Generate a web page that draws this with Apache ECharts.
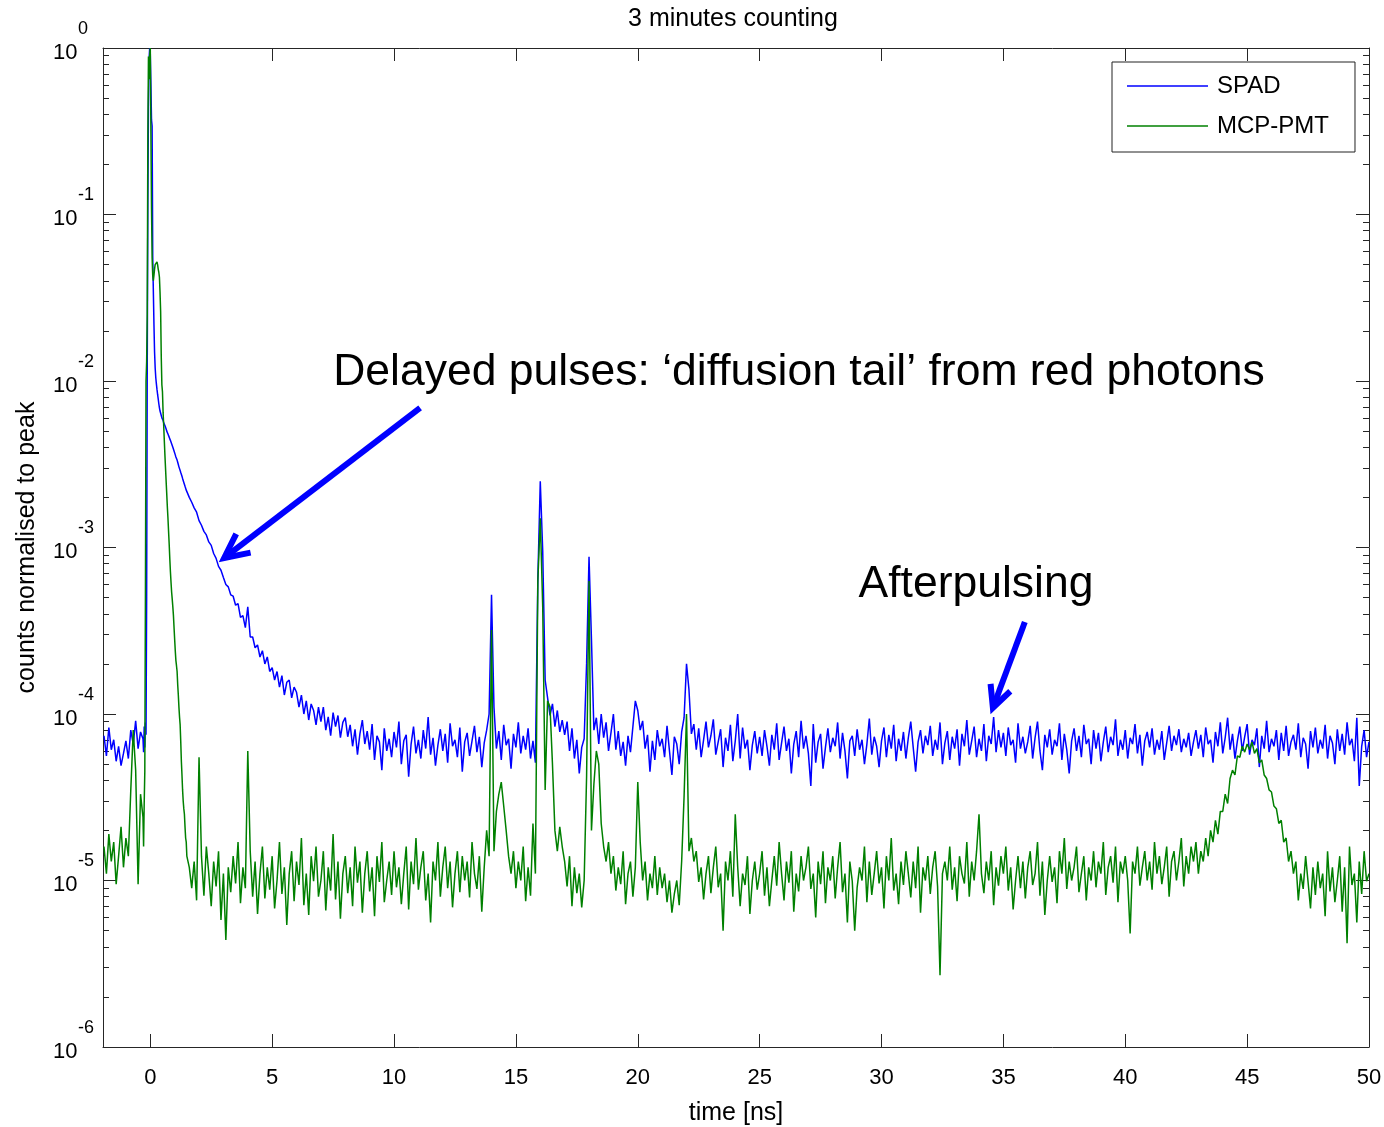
<!DOCTYPE html>
<html><head><meta charset="utf-8">
<script src="https://cdn.jsdelivr.net/npm/echarts@6/dist/echarts.min.js"></script>
<style>html,body{margin:0;padding:0;background:#fff}#c{width:1384px;height:1127px}</style>
</head><body><div id="c"></div><script>
// ---------------- data (counts normalised to peak) ----------------
const seriesNames = ['SPAD', 'MCP-PMT'];
const coarseStep = 0.1;          // ns between coarse samples
const preStart = -1.9;           // first coarse sample before the peak
const spadPre = [7.4e-5,5.6e-5,8.3e-5,6.1e-5,7.0e-5,5.2e-5,6.4e-5,4.9e-5,5.8e-5,6.9e-5,5.4e-5,8.0e-5,6.6e-5,9.1e-5,6.2e-5,7.8e-5];
const mcpPre  = [1.6e-5,1.1e-5,1.9e-5,1.3e-5,1.7e-5,9.5e-6,1.4e-5,2.1e-5,1.2e-5,1.8e-5,1.4e-5,3.5e-5,8.0e-5,4.6e-5,9.5e-6,3.3e-5];
const peakStart = -0.3, peakStep = 0.025;   // fine samples around the main peak
const spadPeak = [7.1e-5,5.9e-5,8.4e-5,6.3e-5,8.9e-5,7.5e-5,4.8e-4,1.2e-2,1.2e-1,4.5e-1,8.5e-1,1.0,9.2e-1,6.0e-1,3.7e-1,3.4e-1,
 5.6e-2,3.5e-2,2.2e-2,1.5e-2,1.2e-2,1.05e-2,9.6e-3,8.9e-3,8.3e-3,7.8e-3,7.3e-3,6.9e-3,6.6e-3,6.4e-3,6.2e-3,6.0e-3,
 5.9e-3,5.8e-3,5.6e-3,5.5e-3,5.4e-3,5.3e-3,5.15e-3,5.0e-3,4.9e-3,4.8e-3,4.7e-3,4.6e-3,4.5e-3,4.4e-3,4.3e-3,4.2e-3,
 4.1e-3,4.0e-3,3.9e-3,3.8e-3,3.7e-3,3.6e-3,3.5e-3,3.42e-3,3.35e-3,3.25e-3,3.15e-3,3.05e-3,2.98e-3,2.9e-3,2.82e-3,2.75e-3,
 2.68e-3,2.6e-3,2.53e-3,2.46e-3,2.4e-3,2.33e-3,2.27e-3,2.21e-3,2.15e-3];
const mcpPeak = [2.4e-5,1.6e-5,2.9e-5,4.5e-5,5.0e-4,1.0e-2,1.3e-2,2.5e-2,3.0e-1,8.9e-1,6.5e-1,9.0e-1,1.0,3.2e-1,1.1e-1,5.5e-2,
 4.3e-2,4.0e-2,4.3e-2,4.7e-2,5.0e-2,5.1e-2,5.0e-2,5.2e-2,5.0e-2,4.7e-2,4.5e-2,4.2e-2,3.4e-2,2.6e-2,1.4e-2,9.5e-3,
 8.6e-3,6.5e-3,5.4e-3,4.4e-3,3.6e-3,3.0e-3,2.5e-3,2.1e-3,1.75e-3,1.5e-3,1.25e-3,1.05e-3,8.6e-4,7.2e-4,6.2e-4,5.4e-4,
 4.9e-4,4.4e-4,3.9e-4,3.3e-4,2.8e-4,2.4e-4,2.1e-4,1.95e-4,1.8e-4,1.5e-4,1.3e-4,1.1e-4,9.6e-5,8.6e-5,6.8e-5,5.2e-5,
 4.3e-5,3.5e-5,3.0e-5,2.7e-5,2.5e-5,2.1e-5,1.8e-5,1.7e-5,1.4e-5];
const tailStart = 1.6;           // coarse samples from 1.6 ns to 50 ns
const spadTail = [2.0e-3,1.87e-3,1.73e-3,1.63e-3,
1.45e-3,1.36e-3,1.25e-3,1.19e-3,1.08e-3,1.03e-3,9.2e-4,8.6e-4,7.7e-4,7.3e-4,
6.6e-4,6.0e-4,5.8e-4,5.2e-4,5.1e-4,4.5e-4,4.6e-4,3.8e-4,3.9e-4,3.3e-4,
4.4e-4,2.9e-4,2.9e-4,2.5e-4,2.6e-4,2.2e-4,2.4e-4,2.0e-4,2.2e-4,1.8e-4,
1.9e-4,1.6e-4,1.8e-4,1.45e-4,1.7e-4,1.3e-4,1.55e-4,1.6e-4,1.25e-4,1.45e-4,
1.35e-4,1.1e-4,1.3e-4,1.0e-4,1.2e-4,9.2e-5,1.15e-4,1.05e-4,8.6e-5,1.1e-4,
9.0e-5,1.1e-4,8.0e-5,9.6e-5,7.4e-5,1.02e-4,8.4e-5,9.8e-5,7.2e-5,8.9e-5,
9.5e-5,7.3e-5,8.6e-5,6.4e-5,8.1e-5,5.7e-5,7.6e-5,9.2e-5,6.6e-5,7.9e-5,
6.1e-5,8.7e-5,5.3e-5,7.4e-5,6.8e-5,4.6e-5,8.2e-5,6.0e-5,7.1e-5,5.5e-5,
7.8e-5,6.3e-5,9.0e-5,5.0e-5,6.9e-5,7.5e-5,4.2e-5,6.6e-5,8.4e-5,5.8e-5,
7.0e-5,5.4e-5,8.0e-5,6.2e-5,9.6e-5,5.7e-5,7.2e-5,4.9e-5,6.5e-5,8.1e-5,
6.0e-5,7.6e-5,5.1e-5,8.8e-5,6.4e-5,7.0e-5,5.5e-5,8.3e-5,4.5e-5,6.8e-5,
7.7e-5,5.6e-5,6.9e-5,8.5e-5,5.9e-5,7.3e-5,4.8e-5,6.7e-5,8.0e-5,1.0e-4,
5.2e-4,1.1e-4,6.2e-5,7.9e-5,5.3e-5,8.6e-5,6.5e-5,7.1e-5,4.7e-5,7.6e-5,
6.3e-5,8.9e-5,5.8e-5,7.4e-5,6.1e-5,8.2e-5,5.4e-5,6.9e-5,5.1e-5,6.5e-4,
2.5e-3,9.5e-4,1.6e-4,1.25e-4,9.8e-5,1.15e-4,8.4e-5,1.05e-4,7.8e-5,9.2e-5,
7.5e-5,9.0e-5,6.0e-5,8.2e-5,5.4e-5,7.0e-5,4.4e-5,6.3e-5,7.1e-5,2.0e-4,
8.8e-4,2.8e-4,8.0e-5,9.5e-5,6.6e-5,1.0e-4,7.2e-5,8.9e-5,6.0e-5,7.7e-5,
1.0e-4,6.1e-5,7.9e-5,5.6e-5,6.8e-5,4.9e-5,7.4e-5,5.9e-5,8.4e-5,1.2e-4,
1.05e-4,8.0e-5,9.1e-5,6.2e-5,7.5e-5,4.5e-5,6.9e-5,5.3e-5,8.0e-5,6.4e-5,
7.1e-5,5.5e-5,8.5e-5,6.0e-5,4.3e-5,7.3e-5,6.6e-5,5.0e-5,7.8e-5,9.5e-5,
2.0e-4,1.4e-4,7.6e-5,8.7e-5,6.1e-5,8.2e-5,5.5e-5,7.0e-5,9.0e-5,6.3e-5,
7.4e-5,9.3e-5,5.7e-5,6.8e-5,8.1e-5,4.8e-5,7.2e-5,6.0e-5,8.6e-5,5.2e-5,
6.9e-5,1.0e-4,5.4e-5,8.3e-5,6.2e-5,7.0e-5,4.6e-5,6.5e-5,7.9e-5,5.8e-5,
7.3e-5,5.6e-5,8.0e-5,6.4e-5,4.9e-5,7.5e-5,6.1e-5,8.8e-5,5.3e-5,6.7e-5,
8.4e-5,6.0e-5,7.1e-5,4.4e-5,6.6e-5,7.9e-5,5.5e-5,9.1e-5,6.2e-5,7.4e-5,
5.8e-5,3.7e-5,8.7e-5,5.1e-5,6.8e-5,7.6e-5,4.7e-5,6.3e-5,8.2e-5,5.9e-5,
7.2e-5,6.4e-5,8.9e-5,5.4e-5,7.7e-5,6.0e-5,4.1e-5,6.9e-5,7.4e-5,5.6e-5,
8.1e-5,6.1e-5,7.0e-5,5.0e-5,6.6e-5,9.4e-5,5.7e-5,7.3e-5,6.4e-5,4.8e-5,
6.9e-5,8.3e-5,5.5e-5,7.5e-5,6.2e-5,8.6e-5,5.2e-5,7.1e-5,6.0e-5,7.8e-5,
5.4e-5,7.2e-5,9.0e-5,6.3e-5,4.5e-5,6.8e-5,8.0e-5,5.8e-5,7.4e-5,6.5e-5,
8.5e-5,5.6e-5,7.0e-5,6.1e-5,8.9e-5,5.0e-5,6.7e-5,7.9e-5,5.3e-5,7.3e-5,
6.2e-5,8.1e-5,4.9e-5,7.6e-5,6.4e-5,9.2e-5,5.7e-5,6.9e-5,8.4e-5,5.5e-5,
7.1e-5,6.0e-5,8.7e-5,5.2e-5,7.4e-5,6.6e-5,9.6e-5,5.9e-5,8.0e-5,6.3e-5,
7.7e-5,5.6e-5,8.3e-5,6.5e-5,7.0e-5,5.1e-5,8.8e-5,6.2e-5,7.3e-5,5.8e-5,
6.8e-5,8.5e-5,5.4e-5,7.2e-5,9.0e-5,6.0e-5,4.6e-5,7.5e-5,6.3e-5,8.1e-5,
5.7e-5,7.0e-5,6.4e-5,8.8e-5,5.3e-5,7.6e-5,6.1e-5,4.4e-5,6.9e-5,8.2e-5,
6.0e-5,7.4e-5,5.5e-5,8.6e-5,6.6e-5,7.1e-5,5.0e-5,8.0e-5,6.2e-5,7.7e-5,
5.2e-5,6.8e-5,8.4e-5,5.9e-5,7.3e-5,6.5e-5,9.3e-5,5.6e-5,7.0e-5,6.1e-5,
8.0e-5,5.4e-5,7.2e-5,6.6e-5,8.7e-5,5.8e-5,7.5e-5,4.9e-5,6.9e-5,7.8e-5,
6.3e-5,8.2e-5,5.7e-5,7.0e-5,6.1e-5,7.9e-5,5.3e-5,6.7e-5,8.5e-5,6.0e-5,
7.4e-5,6.5e-5,8.1e-5,5.9e-5,7.1e-5,6.3e-5,7.7e-5,5.6e-5,6.8e-5,8.0e-5,
6.2e-5,7.5e-5,5.5e-5,8.3e-5,6.6e-5,7.0e-5,5.1e-5,7.8e-5,6.4e-5,8.9e-5,
5.8e-5,7.2e-5,9.5e-5,6.1e-5,7.6e-5,5.4e-5,6.9e-5,8.4e-5,6.0e-5,7.3e-5,
8.7e-5,5.7e-5,7.0e-5,6.5e-5,8.2e-5,4.8e-5,7.4e-5,6.2e-5,9.1e-5,5.9e-5,
7.1e-5,6.4e-5,8.0e-5,5.3e-5,7.7e-5,6.0e-5,8.5e-5,5.6e-5,6.8e-5,7.5e-5,
6.1e-5,8.8e-5,5.5e-5,7.2e-5,6.6e-5,4.7e-5,7.9e-5,6.3e-5,8.3e-5,5.8e-5,
7.0e-5,6.2e-5,8.6e-5,5.4e-5,7.4e-5,6.7e-5,5.0e-5,8.1e-5,6.0e-5,7.6e-5,
5.7e-5,8.9e-5,6.5e-5,7.1e-5,5.2e-5,9.5e-5,3.7e-5,6.4e-5,8.0e-5,5.5e-5,
6.8e-5];
const mcpTail = [1.2e-5,9.0e-6,1.3e-5,7.6e-6,
5.5e-5,1.4e-5,8.1e-6,1.6e-5,1.1e-5,7.0e-6,1.3e-5,9.2e-6,1.5e-5,5.8e-6,
1.1e-5,4.4e-6,1.2e-5,8.5e-6,1.4e-5,9.6e-6,1.7e-5,7.3e-6,1.2e-5,9.0e-6,
6.0e-5,1.5e-5,8.0e-6,1.3e-5,6.3e-6,1.1e-5,1.6e-5,7.8e-6,1.2e-5,8.8e-6,
1.4e-5,6.8e-6,1.0e-5,1.7e-5,8.3e-6,1.2e-5,5.4e-6,1.1e-5,1.5e-5,7.5e-6,
1.3e-5,9.4e-6,1.8e-5,7.1e-6,1.1e-5,6.2e-6,1.4e-5,9.9e-6,1.6e-5,8.0e-6,
1.0e-5,1.5e-5,6.6e-6,1.2e-5,8.7e-6,1.9e-5,7.7e-6,1.3e-5,5.9e-6,1.1e-5,
1.4e-5,8.4e-6,1.2e-5,7.0e-6,1.6e-5,9.7e-6,1.3e-5,6.4e-6,1.1e-5,1.5e-5,
8.6e-6,1.2e-5,6.1e-6,1.4e-5,9.8e-6,1.7e-5,7.4e-6,1.0e-5,1.3e-5,8.2e-6,
1.5e-5,9.1e-6,1.2e-5,7.2e-6,1.1e-5,1.6e-5,6.7e-6,1.3e-5,9.5e-6,1.8e-5,
8.8e-6,1.2e-5,1.5e-5,7.6e-6,1.1e-5,5.6e-6,1.3e-5,1.0e-5,1.7e-5,8.0e-6,
1.2e-5,1.6e-5,9.0e-6,1.3e-5,6.9e-6,1.1e-5,1.5e-5,8.5e-6,1.4e-5,1.0e-5,
1.3e-5,7.9e-6,1.7e-5,1.1e-5,8.9e-6,1.4e-5,6.5e-6,1.2e-5,2.0e-5,1.4e-5,
3.2e-4,1.5e-5,2.6e-5,3.3e-5,3.9e-5,2.8e-5,2.0e-5,1.4e-5,1.1e-5,1.5e-5,
9.0e-6,1.3e-5,1.0e-5,1.6e-5,7.5e-6,1.2e-5,8.1e-6,2.2e-5,1.1e-5,6.3e-4,
1.5e-3,4.4e-4,3.5e-5,1.2e-4,1.1e-4,5.0e-5,2.0e-5,1.5e-5,2.1e-5,1.6e-5,
1.3e-5,9.2e-6,1.4e-5,7.0e-6,1.2e-5,8.4e-6,1.1e-5,6.9e-6,1.0e-5,4.2e-5,
6.3e-4,2.0e-5,3.8e-5,6.0e-5,5.0e-5,2.2e-5,1.6e-5,1.3e-5,1.7e-5,1.1e-5,
1.4e-5,8.7e-6,1.2e-5,9.5e-6,1.5e-5,7.2e-6,1.1e-5,1.3e-5,8.0e-6,1.2e-5,
3.9e-5,1.7e-5,1.0e-5,1.3e-5,7.6e-6,1.1e-5,9.0e-6,1.4e-5,8.2e-6,1.2e-5,
9.0e-6,1.1e-5,7.4e-6,1.0e-5,6.4e-6,8.3e-6,1.0e-5,7.1e-6,1.3e-5,3.2e-5,
1.0e-4,1.5e-5,1.8e-5,1.3e-5,1.5e-5,9.8e-6,1.2e-5,7.7e-6,1.1e-5,1.4e-5,
8.4e-6,1.2e-5,1.6e-5,9.1e-6,1.1e-5,5.0e-6,1.3e-5,1.0e-5,1.5e-5,8.0e-6,
2.5e-5,1.2e-5,7.0e-6,1.1e-5,9.4e-6,1.4e-5,6.3e-6,1.0e-5,1.3e-5,8.8e-6,
1.1e-5,1.5e-5,8.1e-6,1.2e-5,7.0e-6,1.0e-5,1.4e-5,9.3e-6,1.7e-5,1.1e-5,
7.6e-6,1.3e-5,9.7e-6,1.5e-5,6.5e-6,1.1e-5,8.6e-6,1.4e-5,1.0e-5,1.2e-5,
1.6e-5,8.9e-6,1.1e-5,6.0e-6,1.3e-5,9.5e-6,1.5e-5,7.3e-6,1.2e-5,1.0e-5,
1.4e-5,7.8e-6,1.2e-5,1.7e-5,8.5e-6,1.1e-5,5.6e-6,1.3e-5,9.9e-6,5.0e-6,
9.1e-6,1.2e-5,1.0e-5,1.6e-5,7.4e-6,1.3e-5,8.2e-6,1.1e-5,1.5e-5,9.6e-6,
1.2e-5,6.8e-6,1.4e-5,1.0e-5,1.8e-5,8.7e-6,1.1e-5,7.2e-6,1.3e-5,9.4e-6,
1.5e-5,1.1e-5,7.9e-6,1.3e-5,9.0e-6,1.6e-5,6.4e-6,1.2e-5,1.0e-5,1.4e-5,
8.3e-6,1.2e-5,1.5e-5,9.2e-6,2.7e-6,1.1e-5,1.3e-5,1.0e-5,1.6e-5,8.8e-6,
1.2e-5,7.5e-6,1.4e-5,1.1e-5,9.6e-6,1.7e-5,8.0e-6,1.3e-5,1.0e-5,1.5e-5,
2.5e-5,1.1e-5,8.4e-6,1.3e-5,1.0e-5,1.5e-5,7.1e-6,1.2e-5,9.3e-6,1.4e-5,
1.1e-5,1.6e-5,8.7e-6,1.2e-5,6.7e-6,1.0e-5,1.4e-5,9.0e-6,1.3e-5,7.8e-6,
1.2e-5,1.5e-5,9.4e-6,1.1e-5,1.7e-5,8.1e-6,1.3e-5,6.2e-6,1.0e-5,1.4e-5,
9.8e-6,1.2e-5,7.3e-6,1.5e-5,1.1e-5,1.8e-5,8.9e-6,1.3e-5,1.0e-5,1.2e-5,
1.6e-5,8.5e-6,1.1e-5,1.4e-5,7.6e-6,1.2e-5,1.0e-5,1.5e-5,9.1e-6,1.3e-5,
1.1e-5,1.7e-5,8.2e-6,1.2e-5,1.4e-5,9.7e-6,1.6e-5,7.4e-6,1.3e-5,1.1e-5,
1.4e-5,1.0e-5,4.8e-6,1.3e-5,1.1e-5,1.6e-5,9.3e-6,1.2e-5,1.5e-5,1.0e-5,
1.3e-5,8.8e-6,1.7e-5,1.1e-5,1.4e-5,9.5e-6,1.2e-5,1.6e-5,8.0e-6,1.3e-5,
1.5e-5,1.0e-5,1.3e-5,1.8e-5,9.2e-6,1.4e-5,1.1e-5,1.6e-5,1.3e-5,1.7e-5,
1.1e-5,1.5e-5,1.3e-5,1.8e-5,1.4e-5,2.0e-5,1.7e-5,2.3e-5,1.9e-5,2.6e-5,
2.6e-5,3.3e-5,2.9e-5,4.1e-5,4.6e-5,4.3e-5,5.6e-5,5.5e-5,6.4e-5,5.9e-5,
6.6e-5,6.1e-5,6.8e-5,5.8e-5,6.2e-5,5.1e-5,5.3e-5,4.3e-5,4.1e-5,3.5e-5,
3.4e-5,2.8e-5,2.7e-5,2.2e-5,2.3e-5,1.7e-5,1.8e-5,1.3e-5,1.5e-5,1.1e-5,
1.3e-5,7.6e-6,1.1e-5,8.9e-6,1.4e-5,9.8e-6,6.8e-6,1.2e-5,8.2e-6,1.3e-5,
9.0e-6,1.1e-5,6.1e-6,1.5e-5,8.6e-6,1.2e-5,7.4e-6,1.0e-5,1.4e-5,6.5e-6,
1.2e-5,4.2e-6,1.6e-5,9.4e-6,1.1e-5,5.6e-6,1.3e-5,8.3e-6,1.5e-5,9.9e-6,
1.1e-5];
const xTickValues = [0, 5, 10, 15, 20, 25, 30, 35, 40, 45, 50];
const annotationTexts = ['Delayed pulses: \u2018diffusion tail\u2019 from red photons', 'Afterpulsing'];
// arrow anchors in data coordinates [time ns, counts]
const arrowDelayed = [[11.07, 6.9e-3], [3.03, 8.65e-4]];
const arrowAfter   = [[35.88, 3.57e-4], [34.57, 1.09e-4]];

// ---------------- build ----------------
function buildSeries(pre, peak, tail) {
  const pts = [];
  pre.forEach((v, i) => pts.push([+(preStart + i * coarseStep).toFixed(3), v]));
  peak.forEach((v, i) => pts.push([+(peakStart + i * peakStep).toFixed(3), v]));
  tail.forEach((v, i) => pts.push([+(tailStart + i * coarseStep).toFixed(3), v]));
  return pts;
}
const minorTickExps = [];
for (let n = -6; n < 0; n++) for (let k = 2; k <= 9; k++) minorTickExps.push(n + Math.log10(k));

const AX = '#262626';
const FONT = '"Liberation Sans", Arial, sans-serif';
const X_MIN = -1.94, X_MAX = 50;

const chart = echarts.init(document.getElementById('c'), null, {renderer: 'canvas'});
const axisLineCommon = {show: true, onZero: false, lineStyle: {color: AX, width: 1}};
const hiddenLine = {show: false, onZero: false};
const option = {
  animation: false,
  backgroundColor: '#fff',
  title: {text: '3 minutes counting', left: 733, top: 7, padding: 0, textAlign: 'center',
    textStyle: {fontSize: 25, fontWeight: 'normal', fontFamily: FONT, color: '#000'}},
  grid: {left: 103, top: 48, width: 1266, height: 999, containLabel: false, outerBoundsMode: 'none'},
  legend: {
    data: seriesNames, orient: 'vertical', left: 1112, top: 62, padding: [12, 26, 14, 15],
    icon: 'rect', itemWidth: 81, itemHeight: 1.3, itemGap: 16, selectedMode: false,
    backgroundColor: '#fff', borderColor: '#222', borderWidth: 1,
    textStyle: {fontSize: 24, lineHeight: 24, fontFamily: FONT, color: '#000', padding: [0, 0, 0, 4]}
  },
  xAxis: [
    {type: 'value', min: X_MIN, max: X_MAX, position: 'bottom',
      name: 'time [ns]', nameLocation: 'middle', nameGap: 54,
      nameTextStyle: {fontSize: 25, fontFamily: FONT, color: '#000'},
      axisLine: axisLineCommon,
      axisTick: {show: true, inside: true, length: 13, lineStyle: {color: AX}, customValues: xTickValues},
      axisLabel: {show: true, fontSize: 22, fontFamily: FONT, color: '#000', margin: 20, customValues: xTickValues},
      splitLine: {show: false}},
    {type: 'value', min: X_MIN, max: X_MAX, position: 'top',
      axisLine: axisLineCommon,
      axisTick: {show: true, inside: true, length: 13, lineStyle: {color: AX}, customValues: xTickValues},
      axisLabel: {show: false}, splitLine: {show: false}}
  ],
  yAxis: [
    {type: 'log', logBase: 10, min: 1e-6, max: 1, position: 'left',
      name: 'counts normalised to peak', nameLocation: 'middle', nameGap: 63,
      nameTextStyle: {fontSize: 25, fontFamily: FONT, color: '#000'},
      axisLine: axisLineCommon,
      axisTick: {show: true, inside: true, length: 13, lineStyle: {color: AX}},
      axisLabel: {show: true, align: 'left', verticalAlign: 'top', margin: 50, fontSize: 22, lineHeight: 9,
        fontFamily: FONT, color: '#000', formatter: () => '10'},
      splitLine: {show: false}},
    {type: 'log', logBase: 10, min: 1e-6, max: 1, position: 'right',
      axisLine: axisLineCommon,
      axisTick: {show: true, inside: true, length: 13, lineStyle: {color: AX}},
      axisLabel: {show: false}, splitLine: {show: false}},
    {type: 'value', min: -6, max: 0, position: 'left',
      axisLine: hiddenLine,
      axisTick: {show: true, inside: true, length: 6, lineStyle: {color: AX}, customValues: minorTickExps},
      axisLabel: {show: false}, splitLine: {show: false}},
    {type: 'value', min: -6, max: 0, position: 'right',
      axisLine: hiddenLine,
      axisTick: {show: true, inside: true, length: 6, lineStyle: {color: AX}, customValues: minorTickExps},
      axisLabel: {show: false}, splitLine: {show: false}},
    {type: 'log', logBase: 10, min: 1e-6, max: 1, position: 'left',
      axisLine: hiddenLine, axisTick: {show: false}, splitLine: {show: false},
      axisLabel: {show: true, align: 'left', verticalAlign: 'bottom', margin: 25, fontSize: 18, lineHeight: 38,
        fontFamily: FONT, color: '#000', formatter: v => String(Math.round(Math.log10(v)))}}
  ],
  series: [
    {name: seriesNames[0], type: 'line', xAxisIndex: 0, yAxisIndex: 0, symbol: 'none', showSymbol: false,
      lineStyle: {color: '#0000ff', width: 1.5}, itemStyle: {color: '#0000ff'}, sampling: null, z: 2,
      data: buildSeries(spadPre, spadPeak, spadTail)},
    {name: seriesNames[1], type: 'line', xAxisIndex: 0, yAxisIndex: 0, symbol: 'none', showSymbol: false,
      lineStyle: {color: '#008000', width: 1.5}, itemStyle: {color: '#008000'}, sampling: null, z: 3,
      data: buildSeries(mcpPre, mcpPeak, mcpTail)}
  ]
};
chart.setOption(option);

// ---------------- annotations ----------------
function toPx(p) { return chart.convertToPixel({xAxisIndex: 0, yAxisIndex: 0}, p); }
function arrowGraphics(anchor, head) {
  const a = toPx(anchor[0]), b = toPx(anchor[1]);
  const dx = a[0] - b[0], dy = a[1] - b[1], L = Math.hypot(dx, dy);
  const ux = dx / L, uy = dy / L;
  const ang = 26 * Math.PI / 180;
  const rot = (x, y, t) => [x * Math.cos(t) - y * Math.sin(t), x * Math.sin(t) + y * Math.cos(t)];
  const r1 = rot(ux, uy, ang), r2 = rot(ux, uy, -ang);
  const col = '#0000ff';
  return [
    {type: 'line', z: 100, shape: {x1: a[0], y1: a[1], x2: b[0] + ux * 3, y2: b[1] + uy * 3},
      style: {stroke: col, lineWidth: 6}},
    {type: 'polyline', z: 100, shape: {points: [[b[0] + r1[0] * head, b[1] + r1[1] * head], [b[0], b[1]], [b[0] + r2[0] * head, b[1] + r2[1] * head]]},
      style: {stroke: col, lineWidth: 6, fill: null, lineJoin: 'miter'}}
  ];
}
const annFont = '44.5px "Liberation Sans", Arial, sans-serif';
chart.setOption({
  graphic: [
    ...arrowGraphics(arrowDelayed, 27),
    ...arrowGraphics(arrowAfter, 24),
    {type: 'text', z: 100, x: 799, y: 373, style: {text: annotationTexts[0], font: annFont, fill: '#000', align: 'center', verticalAlign: 'middle'}},
    {type: 'text', z: 100, x: 976, y: 585, style: {text: annotationTexts[1], font: annFont, fill: '#000', align: 'center', verticalAlign: 'middle'}}
  ]
});
</script></body></html>
